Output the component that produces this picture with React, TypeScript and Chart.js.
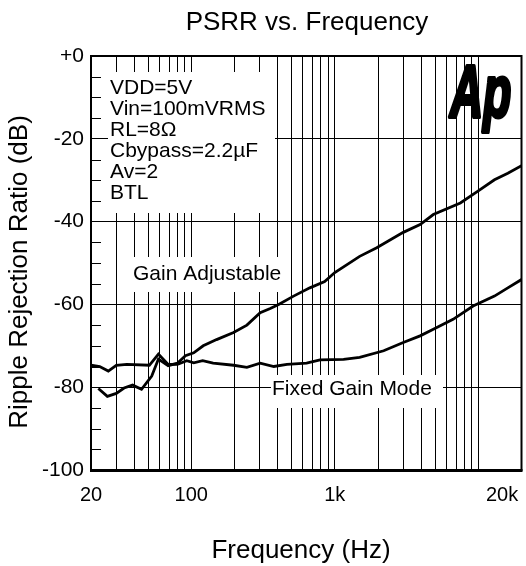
import React, { useEffect, useRef } from "react";
import { Chart, registerables } from "chart.js";

Chart.register(...registerables);

// ---- data ----
const gainAdjFreq = [22.5, 26, 30, 34, 39, 45, 53, 59, 69, 80, 91, 104, 121, 150, 197, 244, 302, 355, 406, 516, 670, 850, 1000, 1490, 1960, 3000, 3930, 4860, 7500, 9880, 12960, 16060, 20000];
const gainAdjDb = [-80.3, -82.2, -81.5, -80.2, -79.5, -80.5, -77.3, -73.2, -74.8, -74.2, -72.4, -71.7, -70, -68.5, -66.8, -65, -62, -61, -60, -58, -56, -54.5, -52.3, -48.4, -46.3, -42.6, -40.7, -38.3, -35.5, -32.7, -29.9, -28.3, -26.5];

const fixedFreq = [20, 23, 26.4, 30, 35.5, 51, 59, 69, 80, 93, 104, 120, 142, 197, 244, 302, 376, 464, 636, 789, 1150, 1490, 2190, 3000, 3930, 4860, 6670, 9200, 12960, 16060, 20000];
const fixedDb = [-74.7, -75, -76.1, -74.7, -74.5, -74.7, -72, -74.5, -74.5, -73.6, -74.1, -73.6, -74.2, -74.7, -75.2, -74.2, -75, -74.5, -74.2, -73.4, -73.3, -72.8, -71.2, -69.2, -67.6, -66, -63.6, -60.4, -58, -56, -54];

const gridFreqs = [20, 30, 40, 50, 60, 70, 80, 90, 100, 200, 300, 400, 500, 600, 700, 800, 900, 1000, 2000, 3000, 4000, 5000, 6000, 7000, 8000, 9000, 10000, 20000];
const xTickLabels: Record<number, string> = { 20: "20", 100: "100", 1000: "1k", 20000: "20k       " };
const yMinorTicks = [-5, -10, -15, -25, -30, -35, -45, -50, -55, -65, -70, -75, -85, -90, -95];

const conditionLines = ["VDD=5V", "Vin=100mVRMS", "RL=8\u03A9", "Cbypass=2.2\u00B5F", "Av=2", "BTL"];
const titleText = "PSRR vs. Frequency";
const xTitle = "Frequency (Hz)";
const yTitle = "Ripple Rejection Ratio (dB)";

const FONT = "'Liberation Sans', Arial, Helvetica, sans-serif";

export default function App() {
  const ref = useRef<HTMLCanvasElement | null>(null);

  useEffect(() => {
    const canvas = ref.current;
    if (!canvas) return;

    const overlay = {
      id: "overlay",
      beforeDatasetsDraw(chart: any) {
        const ctx = chart.ctx;
        const ca = chart.chartArea;
        const y = chart.scales.y;
        ctx.save();
        // minor ticks on left
        ctx.strokeStyle = "#000";
        ctx.lineWidth = 1;
        for (const v of yMinorTicks) {
          const py = Math.round(y.getPixelForValue(v)) + 0.5;
          ctx.beginPath();
          ctx.moveTo(ca.left, py);
          ctx.lineTo(ca.left + 10, py);
          ctx.stroke();
        }
        // white label boxes
        ctx.fillStyle = "#fff";
        ctx.fillRect(108, 72, 167, 141);
        ctx.fillRect(120, 257, 170, 35);
        ctx.fillRect(271, 375, 172, 33);
        // texts
        ctx.fillStyle = "#000";
        ctx.font = `21px ${FONT}`;
        ctx.textAlign = "left";
        ctx.textBaseline = "alphabetic";
        conditionLines.forEach((t, i) => {
          ctx.fillText(t, 110, 93.5 + i * 21);
        });
        ctx.fillText("Gain Adjustable", 133, 280);
        ctx.fillText("Fixed Gain Mode", 272, 395);
        ctx.restore();
      },
      afterDraw(chart: any) {
        const ctx = chart.ctx;
        const ca = chart.chartArea;
        ctx.save();
        // frame
        ctx.strokeStyle = "#000";
        ctx.lineWidth = 2;
        ctx.strokeRect(ca.left, ca.top, ca.right - ca.left, ca.bottom - ca.top);
        ctx.lineWidth = 3;
        ctx.beginPath();
        ctx.moveTo(ca.left - 1, ca.bottom + 0.5);
        ctx.lineTo(ca.right + 1, ca.bottom + 0.5);
        ctx.stroke();
        // logo
        ctx.save();
        ctx.translate(450, 117);
        ctx.scale(0.62, 1);
        ctx.font = `bold italic 74px ${FONT}`;
        ctx.fillStyle = "#000";
        ctx.strokeStyle = "#000";
        ctx.lineWidth = 4;
        ctx.lineJoin = "round";
        ctx.textAlign = "left";
        ctx.textBaseline = "alphabetic";
        ctx.strokeText("Ap", 0, 0);
        ctx.fillText("Ap", 0, 0);
        ctx.restore();
        // titles
        ctx.fillStyle = "#000";
        ctx.textAlign = "center";
        ctx.textBaseline = "alphabetic";
        ctx.font = `26px ${FONT}`;
        ctx.fillText(titleText, 307, 29.5);
        ctx.font = `26px ${FONT}`;
        ctx.fillText(xTitle, 301, 558);
        ctx.save();
        ctx.translate(27, 272);
        ctx.rotate(-Math.PI / 2);
        ctx.fillText(yTitle, 0, 0);
        ctx.restore();
        ctx.restore();
      },
    };

    const chart = new Chart(canvas, {
      type: "line",
      data: {
        datasets: [
          {
            label: "Gain Adjustable",
            data: gainAdjFreq.map((f, i) => ({ x: f, y: gainAdjDb[i] })),
            borderColor: "#000",
            borderWidth: 2.8,
            pointRadius: 0,
            tension: 0,
            fill: false,
          },
          {
            label: "Fixed Gain Mode",
            data: fixedFreq.map((f, i) => ({ x: f, y: fixedDb[i] })),
            borderColor: "#000",
            borderWidth: 2.8,
            pointRadius: 0,
            tension: 0,
            fill: false,
          },
        ],
      },
      options: {
        responsive: false,
        animation: false,
        layout: { padding: { top: 56, left: 0, right: 4.5, bottom: 0 } },
        plugins: {
          legend: { display: false },
          title: { display: false },
          tooltip: { enabled: false },
        },
        font: { family: FONT },
        scales: {
          x: {
            type: "logarithmic",
            min: 20,
            max: 20000,
            afterBuildTicks: (s: any) => {
              s.ticks = gridFreqs.map((v) => ({ value: v }));
            },
            afterFit: (s: any) => {
              s.height = 96;
              s.paddingLeft = 0;
              s.paddingRight = 0;
            },
            ticks: {
              autoSkip: false,
              maxRotation: 0,
              minRotation: 0,
              padding: 13,
              color: "#000",
              font: { size: 20, family: FONT },
              callback: (v: any) => xTickLabels[Number(v)] ?? "",
            },
            grid: {
              drawTicks: false,
              lineWidth: 1,
              color: (c: any) =>
                c.tick && (c.tick.value === 20 || c.tick.value === 20000) ? "rgba(0,0,0,0)" : "#000",
            },
            border: { display: false },
          },
          y: {
            type: "linear",
            min: -100,
            max: 0,
            afterFit: (s: any) => {
              s.width = 91;
              s.paddingTop = 0;
              s.paddingBottom = 0;
            },
            ticks: {
              stepSize: 20,
              padding: 7,
              color: "#000",
              font: { size: 21, family: FONT },
              callback: (v: any) => (Number(v) === 0 ? "+0" : String(v)),
            },
            grid: {
              drawTicks: false,
              lineWidth: 1,
              color: (c: any) =>
                c.tick && (c.tick.value === 0 || c.tick.value === -100) ? "rgba(0,0,0,0)" : "#000",
            },
            border: { display: false },
          },
        },
      },
      plugins: [overlay],
    } as any);

    return () => chart.destroy();
  }, []);

  return (
    <div style={{ position: "absolute", left: 0, top: 0, width: 526, height: 566, background: "#fff" }}>
      <canvas ref={ref} width={526} height={566} style={{ display: "block" }} />
    </div>
  );
}
